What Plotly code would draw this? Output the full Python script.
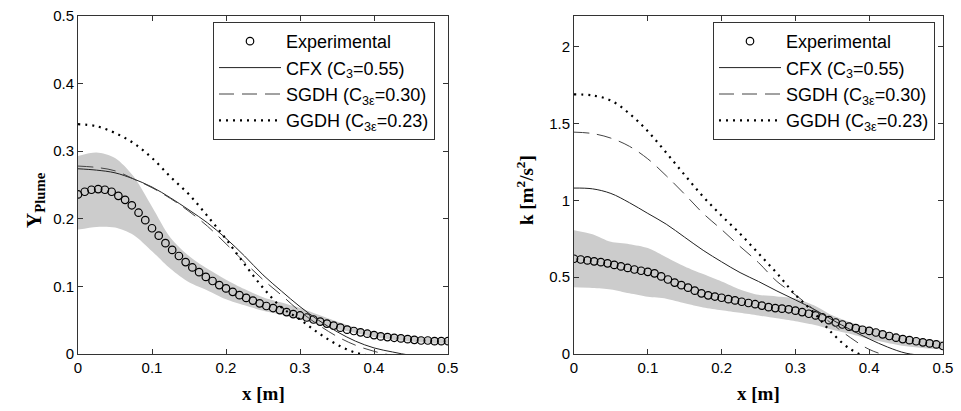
import plotly.graph_objects as go

# ---------------- data ----------------
x_exp = [i * 0.5 / 55 for i in range(56)]

yplume_exp = [0.236, 0.240, 0.243, 0.244, 0.243, 0.240, 0.234, 0.228, 0.220, 0.209,
              0.198, 0.186, 0.175, 0.164, 0.154, 0.145, 0.136, 0.128, 0.121, 0.114,
              0.108, 0.102, 0.097, 0.092, 0.087, 0.083, 0.079, 0.075, 0.071, 0.068,
              0.065, 0.062, 0.059, 0.057, 0.054, 0.051, 0.048, 0.045, 0.042, 0.039,
              0.036, 0.034, 0.032, 0.030, 0.028, 0.026, 0.025, 0.024, 0.023, 0.022,
              0.021, 0.020, 0.020, 0.019, 0.019, 0.019]

k_exp = [0.620, 0.615, 0.609, 0.603, 0.598, 0.590, 0.580, 0.570, 0.560, 0.550,
         0.542, 0.535, 0.525, 0.505, 0.485, 0.465, 0.448, 0.432, 0.412, 0.395,
         0.382, 0.374, 0.366, 0.357, 0.349, 0.340, 0.332, 0.324, 0.315, 0.305,
         0.299, 0.295, 0.291, 0.282, 0.273, 0.262, 0.251, 0.238, 0.220, 0.205,
         0.192, 0.178, 0.168, 0.158, 0.150, 0.140, 0.128, 0.117, 0.106, 0.097,
         0.090, 0.083, 0.076, 0.069, 0.062, 0.052]

x_model = [0.000, 0.025, 0.050, 0.075, 0.100, 0.125, 0.150, 0.175, 0.200, 0.225,
           0.250, 0.275, 0.300, 0.325, 0.350, 0.375, 0.400, 0.425, 0.450, 0.475, 0.500]

yplume_upper = [0.293, 0.298, 0.290, 0.263, 0.218, 0.172, 0.145, 0.126, 0.110, 0.096,
                0.084, 0.076, 0.068, 0.058, 0.048, 0.039, 0.033, 0.028, 0.026, 0.024, 0.022]
yplume_lower = [0.184, 0.188, 0.187, 0.176, 0.152, 0.126, 0.106, 0.094, 0.081, 0.072,
                0.064, 0.058, 0.051, 0.044, 0.037, 0.031, 0.025, 0.021, 0.018, 0.016, 0.015]
yplume_cfx = [0.274, 0.272, 0.268, 0.259, 0.247, 0.231, 0.213, 0.194, 0.171, 0.145,
              0.117, 0.093, 0.070, 0.050, 0.033, 0.019, 0.009, 0.003, -0.002, -0.004, -0.005]
yplume_sgdh = [0.278, 0.276, 0.271, 0.259, 0.246, 0.230, 0.211, 0.189, 0.163, 0.136,
               0.110, 0.087, 0.063, 0.043, 0.026, 0.013, 0.004, -0.002, -0.004, -0.004, -0.004]
yplume_ggdh = [0.340, 0.337, 0.327, 0.312, 0.290, 0.262, 0.236, 0.204, 0.170, 0.133,
               0.098, 0.069, 0.051, 0.031, 0.014, 0.002, -0.003, -0.004, -0.004, -0.004, -0.004]

k_upper = [0.806, 0.780, 0.730, 0.715, 0.690, 0.630, 0.570, 0.520, 0.472, 0.420,
           0.385, 0.375, 0.362, 0.318, 0.252, 0.205, 0.173, 0.143, 0.115, 0.097, 0.085]
k_lower = [0.434, 0.430, 0.420, 0.395, 0.372, 0.360, 0.330, 0.303, 0.285, 0.268,
           0.250, 0.232, 0.213, 0.190, 0.158, 0.130, 0.097, 0.072, 0.050, 0.038, 0.030]
k_cfx = [1.080, 1.075, 1.045, 0.985, 0.915, 0.845, 0.760, 0.675, 0.600, 0.530,
         0.472, 0.410, 0.352, 0.292, 0.222, 0.158, 0.098, 0.045, 0.005, -0.010, -0.020]
k_sgdh = [1.444, 1.435, 1.405, 1.352, 1.270, 1.160, 1.040, 0.915, 0.810, 0.700,
          0.595, 0.472, 0.385, 0.290, 0.195, 0.105, 0.030, -0.010, -0.020, -0.020, -0.020]
k_ggdh = [1.690, 1.683, 1.650, 1.565, 1.450, 1.310, 1.165, 1.024, 0.900, 0.783,
          0.655, 0.525, 0.385, 0.270, 0.135, 0.030, -0.020, -0.020, -0.020, -0.020, -0.020]

x_ticks = [0, 0.1, 0.2, 0.3, 0.4, 0.5]
yplume_ticks = [0, 0.1, 0.2, 0.3, 0.4, 0.5]
k_ticks = [0, 0.5, 1, 1.5, 2]

names = ["Experimental",
         "CFX (C<sub>3</sub>=0.55)",
         "SGDH (C<sub>3ε</sub>=0.30)",
         "GGDH (C<sub>3ε</sub>=0.23)"]

# ---------------- figure ----------------
fig = go.Figure()

BAND = "#cccccc"
SANS = "Liberation Sans, Arial, sans-serif"
SERIF = "Liberation Serif, Times New Roman, serif"


def add_panel(xa, ya, legend, tag, up, lo, exp, cfx, sgdh, ggdh):
    fig.add_trace(go.Scatter(x=x_model, y=lo, mode="lines",
                             line=dict(width=0, shape="spline", smoothing=0.8),
                             showlegend=False, hoverinfo="skip", xaxis=xa, yaxis=ya))
    fig.add_trace(go.Scatter(x=x_model, y=up, mode="lines",
                             line=dict(width=0, shape="spline", smoothing=0.8),
                             fill="tonexty", fillcolor=BAND, showlegend=False,
                             hoverinfo="skip", xaxis=xa, yaxis=ya))
    fig.add_trace(go.Scatter(x=x_exp, y=exp, mode="markers", name=names[0],
                             legendgroup=tag + "0",
                             marker=dict(symbol="circle-open", size=7.5, color="black",
                                         line=dict(width=1.2, color="black")),
                             xaxis=xa, yaxis=ya, legend=legend))
    fig.add_trace(go.Scatter(x=x_model, y=cfx, mode="lines", name=names[1],
                             legendgroup=tag + "1",
                             line=dict(color="#222222", width=1, shape="spline"),
                             xaxis=xa, yaxis=ya, legend=legend))
    fig.add_trace(go.Scatter(x=x_model, y=sgdh, mode="lines", name=names[2],
                             legendgroup=tag + "2",
                             line=dict(color="#444444", width=1, dash="15px,8px", shape="spline"),
                             xaxis=xa, yaxis=ya, legend=legend))
    fig.add_trace(go.Scatter(x=x_model, y=ggdh, mode="lines", name=names[3],
                             legendgroup=tag + "3",
                             line=dict(color="black", width=2.2, dash="2px,5px", shape="spline"),
                             xaxis=xa, yaxis=ya, legend=legend))


add_panel("x", "y", "legend", "a", yplume_upper, yplume_lower, yplume_exp,
          yplume_cfx, yplume_sgdh, yplume_ggdh)
add_panel("x2", "y2", "legend2", "b", k_upper, k_lower, k_exp, k_cfx, k_sgdh, k_ggdh)

W, H = 961, 411
ydom = [(H - 354) / H, (H - 16) / H]

axis_common = dict(showline=True, linecolor="#333333", linewidth=1, mirror="ticks",
                   ticks="inside", ticklen=5, tickcolor="#333333", showgrid=False,
                   zeroline=False, automargin=False,
                   tickfont=dict(family=SANS, size=15, color="black"))

legend_common = dict(xanchor="left", yanchor="top", traceorder="normal",
                     bgcolor="white", bordercolor="#333333", borderwidth=1,
                     font=dict(family=SANS, size=18, color="black"), itemwidth=62,
                     tracegroupgap=3)

fig.update_layout(
    width=W, height=H,
    margin=dict(l=0, r=0, t=0, b=0, autoexpand=False),
    paper_bgcolor="white", plot_bgcolor="white",
    xaxis=dict(domain=[78 / W, 448 / W], range=[0, 0.5], tickvals=x_ticks,
               ticktext=[f"{v:g}" for v in x_ticks], anchor="y", **axis_common),
    yaxis=dict(domain=ydom, range=[0, 0.5], tickvals=yplume_ticks,
               ticktext=[f"{v:g}" for v in yplume_ticks], anchor="x", **axis_common),
    xaxis2=dict(domain=[574 / W, 943 / W], range=[0, 0.5], tickvals=x_ticks,
                ticktext=[f"{v:g}" for v in x_ticks], anchor="y2", **axis_common),
    yaxis2=dict(domain=ydom, range=[0, 2.2], tickvals=k_ticks,
                ticktext=[f"{v:g}" for v in k_ticks], anchor="x2", **axis_common),
    legend=dict(x=213 / W, y=1 - 22 / H, **legend_common),
    legend2=dict(x=713 / W, y=1 - 22 / H, **legend_common),
    showlegend=True,
)

title_font = dict(family=SERIF, size=19, color="black")
fig.add_annotation(text="<b>Y<sub>Plume</sub></b>", x=35 / W, y=(H - 200) / H,
                   xref="paper", yref="paper", textangle=-90, showarrow=False,
                   xanchor="center", yanchor="middle",
                   font=dict(family=SERIF, size=21, color="black"))
fig.add_annotation(text="<b>k [m<sup>2</sup>/s<sup>2</sup>]</b>", x=525 / W, y=(H - 190) / H,
                   xref="paper", yref="paper", textangle=-90, showarrow=False,
                   xanchor="center", yanchor="middle", font=title_font)
fig.add_annotation(text="<b>x [m]</b>", x=263 / W, y=(H - 393) / H,
                   xref="paper", yref="paper", showarrow=False,
                   xanchor="center", yanchor="middle", font=title_font)
fig.add_annotation(text="<b>x [m]</b>", x=758 / W, y=(H - 393) / H,
                   xref="paper", yref="paper", showarrow=False,
                   xanchor="center", yanchor="middle", font=title_font)

fig.write_html("out.html")
